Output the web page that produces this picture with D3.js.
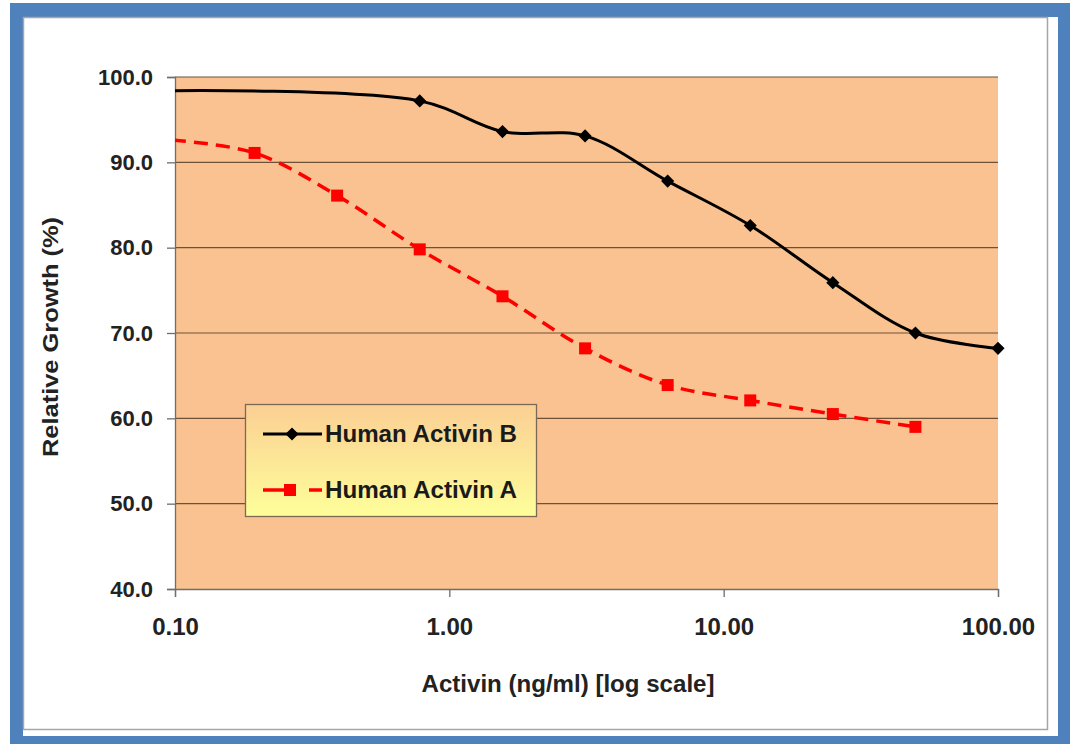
<!DOCTYPE html>
<html>
<head>
<meta charset="utf-8">
<script src="https://cdn.jsdelivr.net/npm/d3@7"></script>
<style>
  body { margin: 0; background: #ffffff; }
  svg { display: block; font-family: Arial, "Liberation Sans", sans-serif; }
</style>
</head>
<body>
<div id="chart"></div>
<script>
// Relative growth vs activin dose (log scale), two series.
const doseB = [0.0977, 0.78, 1.5625, 3.125, 6.25, 12.5, 25, 50, 100];
const growthB = [98.4, 97.2, 93.6, 93.1, 87.8, 82.6, 75.9, 70.0, 68.2];
const doseA = [0.0977, 0.195, 0.39, 0.78, 1.5625, 3.125, 6.25, 12.5, 25, 50];
const growthA = [92.6, 91.1, 86.1, 79.8, 74.3, 68.2, 63.9, 62.1, 60.5, 59.0];
const xTicks = [0.1, 1, 10, 100];
const yTicks = [40, 50, 60, 70, 80, 90, 100];
const seriesNames = ["Human Activin B", "Human Activin A"];

const W = 1070, H = 744;
const plot = { left: 175, right: 998, top: 77, bottom: 589 };

const svg = d3.select("#chart").append("svg")
  .attr("width", W).attr("height", H);

// ---- frame ----
svg.append("rect").attr("x", 10).attr("y", 3).attr("width", W - 10).attr("height", H - 3)
  .attr("fill", "#4f81bd");
svg.append("rect").attr("x", 23).attr("y", 17).attr("width", 1035).attr("height", 719)
  .attr("fill", "#ffffff");
svg.append("rect").attr("x", 23.5).attr("y", 17.5).attr("width", 1024).attr("height", 712)
  .attr("fill", "#ffffff").attr("stroke", "#a6a6a6").attr("stroke-width", 1.5);

// ---- scales ----
const x = d3.scaleLog().domain([0.1, 100]).range([plot.left, plot.right]);
const y = d3.scaleLinear().domain([40, 100]).range([plot.bottom, plot.top]);

svg.append("rect")
  .attr("x", plot.left).attr("y", plot.top)
  .attr("width", plot.right - plot.left).attr("height", plot.bottom - plot.top)
  .attr("fill", "#fac290");

svg.append("defs").append("clipPath").attr("id", "clip")
  .append("rect")
  .attr("x", plot.left).attr("y", plot.top - 10)
  .attr("width", plot.right - plot.left + 10).attr("height", plot.bottom - plot.top + 10);

// gridlines
svg.append("g").selectAll("line")
  .data(yTicks.filter((t) => t > 40))
  .join("line")
  .attr("x1", plot.left).attr("x2", plot.right)
  .attr("y1", (d) => y(d)).attr("y2", (d) => y(d))
  .attr("stroke", "#6b5238").attr("stroke-width", 1.2);

// axes
const yAxis = svg.append("g")
  .attr("transform", `translate(${plot.left},0)`)
  .call(d3.axisLeft(y).tickValues(yTicks).tickFormat(d3.format(".1f"))
    .tickSize(8).tickPadding(14));
const xAxis = svg.append("g")
  .attr("transform", `translate(0,${plot.bottom})`)
  .call(d3.axisBottom(x).tickValues(xTicks).tickFormat(d3.format(".2f"))
    .tickSize(8).tickPadding(21));

for (const [g, size] of [[yAxis, 22], [xAxis, 24]]) {
  g.attr("font-size", size);
  g.select(".domain").attr("stroke", "#6e6e6e").attr("stroke-width", 1.3);
  g.selectAll(".tick line").attr("stroke", "#6e6e6e").attr("stroke-width", 1.3);
  g.selectAll(".tick text")
    .attr("fill", "#222").attr("font-size", size).attr("font-weight", "bold")
    .attr("font-family", "Arial, 'Liberation Sans', sans-serif");
}

// axis titles
svg.append("text")
  .attr("x", 568).attr("y", 692)
  .attr("text-anchor", "middle")
  .attr("font-size", 24).attr("font-weight", "bold").attr("fill", "#222")
  .attr("textLength", 293).attr("lengthAdjust", "spacingAndGlyphs")
  .text("Activin (ng/ml) [log scale]");
svg.append("text")
  .attr("transform", "translate(58,337) rotate(-90)")
  .attr("text-anchor", "middle")
  .attr("font-size", 22).attr("font-weight", "bold").attr("fill", "#222")
  .attr("textLength", 240).attr("lengthAdjust", "spacingAndGlyphs")
  .text("Relative Growth (%)");

// ---- series ----
const line = d3.line()
  .x((d) => x(d[0])).y((d) => y(d[1]))
  .curve(d3.curveCatmullRom.alpha(0.5));

const ptsB = doseB.map((d, i) => [d, growthB[i]]);
const ptsA = doseA.map((d, i) => [d, growthA[i]]);

const series = svg.append("g").attr("clip-path", "url(#clip)");

series.append("path").datum(ptsA)
  .attr("d", line).attr("fill", "none")
  .attr("stroke", "#ff0000").attr("stroke-width", 3.5)
  .attr("stroke-dasharray", "14,8");
series.append("path").datum(ptsB)
  .attr("d", line).attr("fill", "none")
  .attr("stroke", "#000000").attr("stroke-width", 3);

const diamond = d3.symbol().type(d3.symbolDiamond2).size(110);

series.selectAll(".sq").data(ptsA.filter((d) => d[0] >= 0.1))
  .join("rect")
  .attr("x", (d) => x(d[0]) - 6).attr("y", (d) => y(d[1]) - 6)
  .attr("width", 12).attr("height", 12)
  .attr("fill", "#ff0000");
series.selectAll(".dm").data(ptsB.filter((d) => d[0] >= 0.1))
  .join("path")
  .attr("d", diamond)
  .attr("transform", (d) => `translate(${x(d[0])},${y(d[1])})`)
  .attr("fill", "#000000");

// ---- legend ----
const grad = svg.select("defs").append("linearGradient")
  .attr("id", "legendGrad").attr("x1", 0).attr("y1", 0).attr("x2", 0).attr("y2", 1);
grad.append("stop").attr("offset", "0%").attr("stop-color", "#fbcf94");
grad.append("stop").attr("offset", "100%").attr("stop-color", "#fefe9a");

const legend = svg.append("g");
legend.append("rect")
  .attr("x", 245.5).attr("y", 404.5).attr("width", 291).attr("height", 112)
  .attr("fill", "url(#legendGrad)").attr("stroke", "#7a6a55").attr("stroke-width", 1.3);

legend.append("line")
  .attr("x1", 263).attr("x2", 322).attr("y1", 434).attr("y2", 434)
  .attr("stroke", "#000").attr("stroke-width", 3);
legend.append("path").attr("d", diamond).attr("transform", "translate(292,434)").attr("fill", "#000");

legend.append("line")
  .attr("x1", 263).attr("x2", 322).attr("y1", 490).attr("y2", 490)
  .attr("stroke", "#ff0000").attr("stroke-width", 3.5).attr("stroke-dasharray", "24,22,13");
legend.append("rect").attr("x", 284).attr("y", 484).attr("width", 12).attr("height", 12)
  .attr("fill", "#ff0000");

legend.selectAll("text").data(seriesNames)
  .join("text")
  .attr("x", 325).attr("y", (d, i) => 442 + i * 56)
  .attr("font-size", 24).attr("font-weight", "bold").attr("fill", "#1a1a1a")
  .attr("textLength", 192).attr("lengthAdjust", "spacingAndGlyphs")
  .text((d) => d);
</script>
</body>
</html>
